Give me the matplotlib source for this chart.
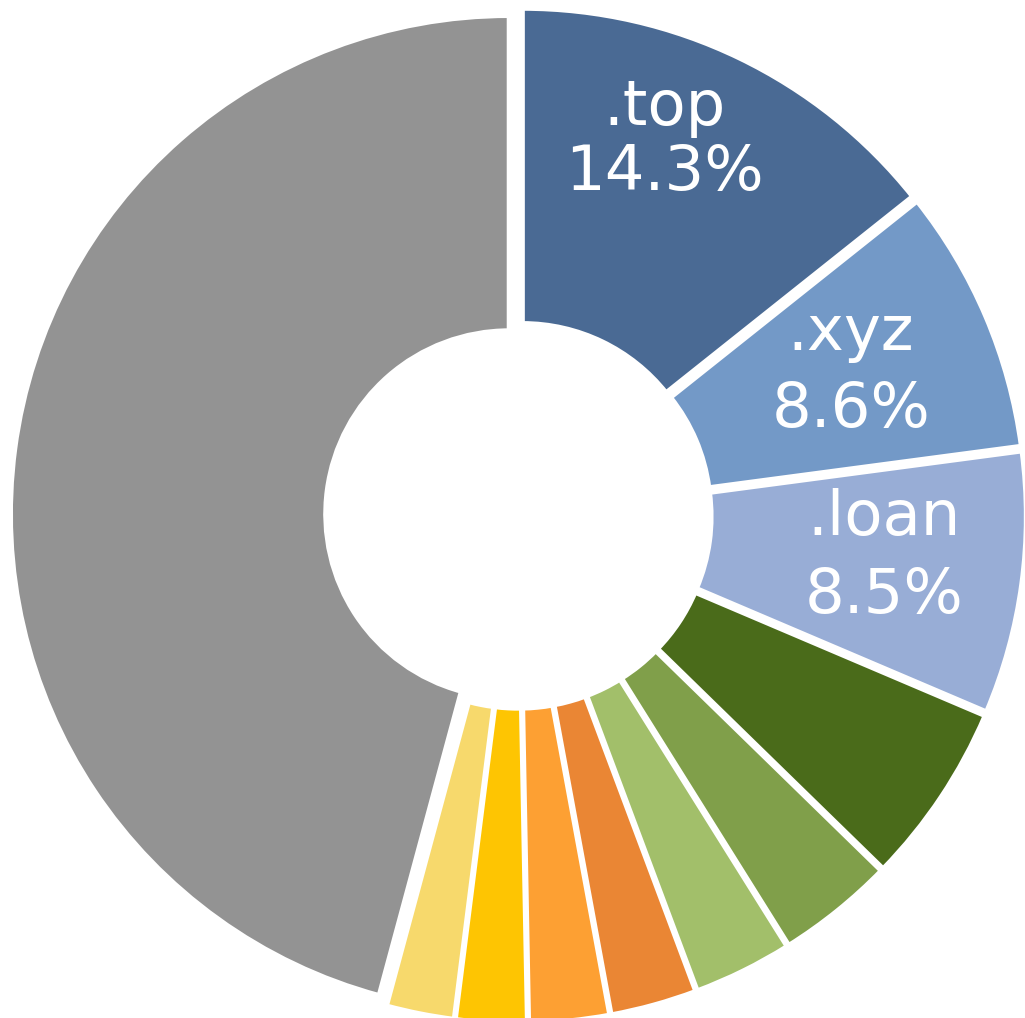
import matplotlib
matplotlib.use("Agg")
import matplotlib.pyplot as plt

# ---- data ----
categories = [".top", ".xyz", ".loan", "d4", "d5", "d6", "d7", "d8", "d9", "d10", "other"]
values = [14.3, 8.6, 8.5, 5.9, 3.8, 3.2, 2.8, 2.6, 2.3, 2.2, 45.8]
colors = ["#4a6a94", "#7399c7", "#98add6", "#4a6b1a", "#809f4a", "#a2bf6a",
          "#ea8634", "#fda033", "#fec502", "#f7d96c", "#939393"]
labels_shown = [".top", ".xyz", ".loan"]

W, H = 1025, 1018
fig = plt.figure(figsize=(W / 100, H / 100), dpi=100)
ax = fig.add_axes([0, 0, 1, 1])

cx, cy = 518.4, H - 515.4
R = 498.5
ring = 315
expl = 9.4

ax.pie(values, colors=colors, startangle=90, counterclock=False,
       center=(cx, cy), radius=R, explode=[expl] * len(values),
       wedgeprops=dict(width=ring, edgecolor="white", linewidth=3.4))

ax.set_xlim(0, W)
ax.set_ylim(0, H)
ax.set_aspect("equal")
ax.axis("off")

# label positions (pixel coords from top-left): (x_center, baseline name, baseline pct)
label_pos = {".top": (665, 125, 190), ".xyz": (851, 350, 427), ".loan": (884, 535, 613)}
for name in labels_shown:
    i = categories.index(name)
    x, yb1, yb2 = label_pos[name]
    ax.text(x, H - yb1, name, color="white", fontsize=45, ha="center", va="baseline")
    ax.text(x, H - yb2, f"{values[i]:.1f}%", color="white", fontsize=45,
            ha="center", va="baseline")

fig.savefig("out.png", dpi=100)
